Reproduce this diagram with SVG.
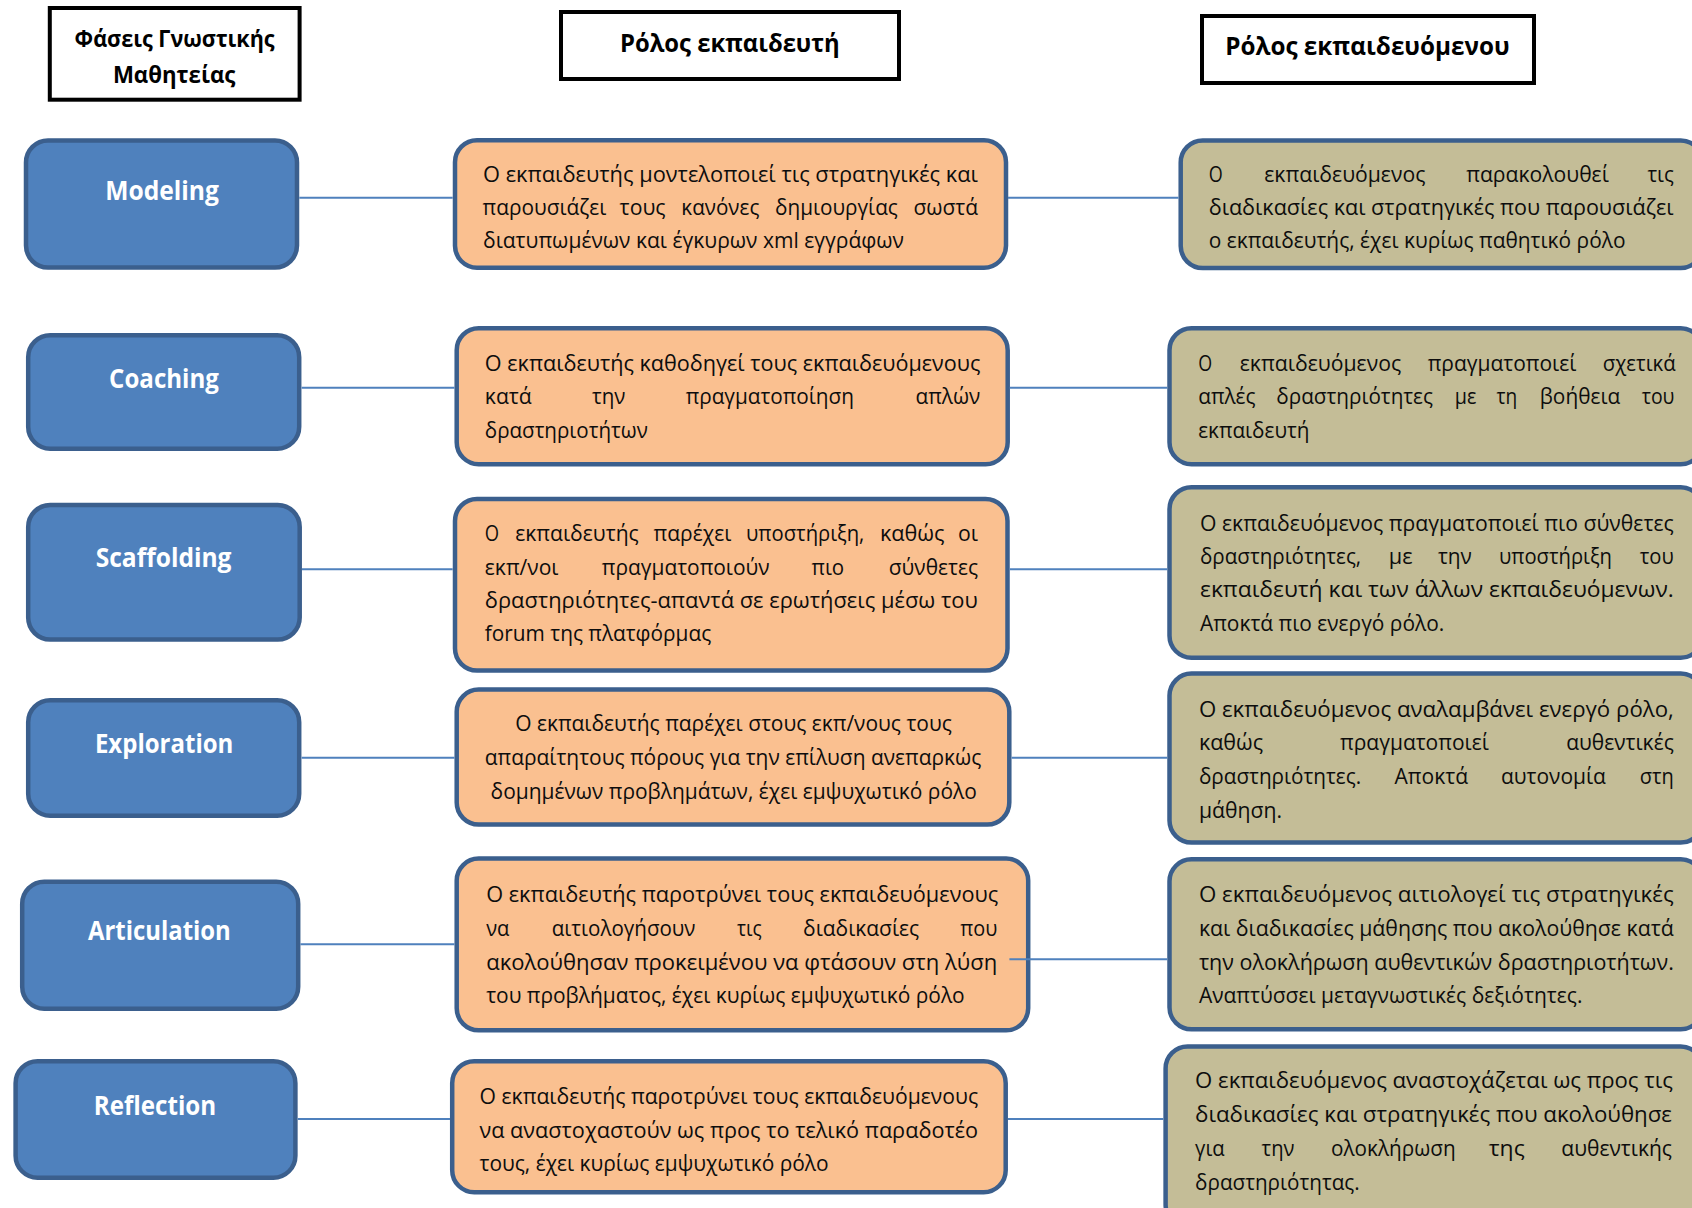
<svg xmlns="http://www.w3.org/2000/svg" width="1692" height="1208" viewBox="0 0 1692 1208">
<style>
.hdr{fill:#fff;stroke:#000;stroke-width:4}
.ht{font-family:"Open Sans","Noto Sans","DejaVu Sans",sans-serif;font-weight:700;fill:#000}
.ph{fill:#4f81bd;stroke:#3b5f8d;stroke-width:4.5}
.pt{font-family:"Open Sans","Noto Sans","DejaVu Sans",sans-serif;font-weight:700;font-size:27px;fill:#fff}
.tc{fill:#fac090;stroke:#3b5f8d;stroke-width:4.5}
.ln{fill:#c4bd97;stroke:#3b5f8d;stroke-width:4.5}
.t{font-family:"Open Sans","Noto Sans","DejaVu Sans",sans-serif;font-size:21px;fill:#0d0d0d}
.cn line{stroke:#4f81bd;stroke-width:2}
</style>
<rect width="1692" height="1208" fill="#fff"/>
<g id="hdr-phases">
<rect class="hdr" x="49.8" y="8" width="249.8" height="91.7"/>
<text class="ht" font-size="22.5" x="74.6" y="46.7" textLength="200" lengthAdjust="spacingAndGlyphs">Φάσεις Γνωστικής</text>
<text class="ht" font-size="22.5" x="112.9" y="82.7" textLength="122.5" lengthAdjust="spacingAndGlyphs">Μαθητείας</text>
</g>
<g id="hdr-teacher">
<rect class="hdr" x="561" y="12" width="338" height="67"/>
<text class="ht" font-size="25" x="620" y="51.7" textLength="219.7" lengthAdjust="spacingAndGlyphs">Ρόλος εκπαιδευτή</text>
</g>
<g id="hdr-learner">
<rect class="hdr" x="1202" y="16" width="332" height="67"/>
<text class="ht" font-size="25" x="1225.3" y="55" textLength="284.3" lengthAdjust="spacingAndGlyphs">Ρόλος εκπαιδευόμενου</text>
</g>

<g id="phase-modeling">
<rect class="ph" x="26" y="140.5" width="271" height="127" rx="22"/>
<text class="pt" x="105.2" y="199.5" textLength="113.7" lengthAdjust="spacingAndGlyphs">Modeling</text>
</g>
<g id="phase-coaching">
<rect class="ph" x="28.2" y="335.2" width="271" height="113.5" rx="22"/>
<text class="pt" x="109.1" y="387.5" textLength="109.8" lengthAdjust="spacingAndGlyphs">Coaching</text>
</g>
<g id="phase-scaffolding">
<rect class="ph" x="28.2" y="505" width="271.5" height="134.5" rx="22"/>
<text class="pt" x="95.7" y="567" textLength="135.8" lengthAdjust="spacingAndGlyphs">Scaffolding</text>
</g>
<g id="phase-exploration">
<rect class="ph" x="28.2" y="700.2" width="271" height="115.5" rx="22"/>
<text class="pt" x="94.9" y="753" textLength="138.5" lengthAdjust="spacingAndGlyphs">Exploration</text>
</g>
<g id="phase-articulation">
<rect class="ph" x="22.2" y="881.7" width="276" height="127" rx="22"/>
<text class="pt" x="88" y="940" textLength="142.8" lengthAdjust="spacingAndGlyphs">Articulation</text>
</g>
<g id="phase-reflection">
<rect class="ph" x="15.6" y="1061.2" width="279.8" height="116.5" rx="22"/>
<text class="pt" x="93.8" y="1115" textLength="122.4" lengthAdjust="spacingAndGlyphs">Reflection</text>
</g>

<g id="teacher-modeling">
<rect class="tc" x="455" y="140.2" width="551" height="127.5" rx="22"/>
<text class="t" x="483" y="181.7" textLength="495" lengthAdjust="spacingAndGlyphs">Ο εκπαιδευτής μοντελοποιεί τις στρατηγικές και</text>
<text class="t" x="482.6" y="215" textLength="123.7" lengthAdjust="spacingAndGlyphs">παρουσιάζει</text>
<text class="t" x="619.6" y="215" textLength="46" lengthAdjust="spacingAndGlyphs">τους</text>
<text class="t" x="681.3" y="215" textLength="78.1" lengthAdjust="spacingAndGlyphs">κανόνες</text>
<text class="t" x="775" y="215" textLength="122.8" lengthAdjust="spacingAndGlyphs">δημιουργίας</text>
<text class="t" x="913.4" y="215" textLength="64.6" lengthAdjust="spacingAndGlyphs">σωστά</text>
<text class="t" x="483" y="248.3" textLength="421" lengthAdjust="spacingAndGlyphs">διατυπωμένων και έγκυρων xml εγγράφων</text>
</g>
<g id="learner-modeling">
<rect class="ln" x="1180.7" y="140.5" width="522" height="127.5" rx="22"/>
<text class="t" x="1208.7" y="181.7" textLength="14" lengthAdjust="spacingAndGlyphs">Ο</text>
<text class="t" x="1264.2" y="181.7" textLength="161.2" lengthAdjust="spacingAndGlyphs">εκπαιδευόμενος</text>
<text class="t" x="1466.2" y="181.7" textLength="142.7" lengthAdjust="spacingAndGlyphs">παρακολουθεί</text>
<text class="t" x="1647.4" y="181.7" textLength="26.4" lengthAdjust="spacingAndGlyphs">τις</text>
<text class="t" x="1208.7" y="215" textLength="465" lengthAdjust="spacingAndGlyphs">διαδικασίες και στρατηγικές που παρουσιάζει</text>
<text class="t" x="1208.7" y="248.3" textLength="416.8" lengthAdjust="spacingAndGlyphs">ο εκπαιδευτής, έχει κυρίως παθητικό ρόλο</text>
</g>

<g id="teacher-coaching">
<rect class="tc" x="456.7" y="328.2" width="551" height="136" rx="22"/>
<text class="t" x="484.8" y="371" textLength="495.6" lengthAdjust="spacingAndGlyphs">Ο εκπαιδευτής καθοδηγεί τους εκπαιδευόμενους</text>
<text class="t" x="484.8" y="404.3" textLength="46.9" lengthAdjust="spacingAndGlyphs">κατά</text>
<text class="t" x="592" y="404.3" textLength="33.4" lengthAdjust="spacingAndGlyphs">την</text>
<text class="t" x="685.7" y="404.3" textLength="168.3" lengthAdjust="spacingAndGlyphs">πραγματοποίηση</text>
<text class="t" x="915.6" y="404.3" textLength="64.8" lengthAdjust="spacingAndGlyphs">απλών</text>
<text class="t" x="484.8" y="437.7" textLength="163" lengthAdjust="spacingAndGlyphs">δραστηριοτήτων</text>
</g>
<g id="learner-coaching">
<rect class="ln" x="1169.5" y="328.2" width="533.2" height="136" rx="22"/>
<text class="t" x="1198.2" y="371" textLength="13.9" lengthAdjust="spacingAndGlyphs">Ο</text>
<text class="t" x="1239.7" y="371" textLength="161.5" lengthAdjust="spacingAndGlyphs">εκπαιδευόμενος</text>
<text class="t" x="1427.7" y="371" textLength="148.7" lengthAdjust="spacingAndGlyphs">πραγματοποιεί</text>
<text class="t" x="1602.8" y="371" textLength="72.9" lengthAdjust="spacingAndGlyphs">σχετικά</text>
<text class="t" x="1198.2" y="404.3" textLength="57.3" lengthAdjust="spacingAndGlyphs">απλές</text>
<text class="t" x="1276.3" y="404.3" textLength="156.7" lengthAdjust="spacingAndGlyphs">δραστηριότητες</text>
<text class="t" x="1454.8" y="404.3" textLength="21.6" lengthAdjust="spacingAndGlyphs">με</text>
<text class="t" x="1496.4" y="404.3" textLength="20.7" lengthAdjust="spacingAndGlyphs">τη</text>
<text class="t" x="1539.8" y="404.3" textLength="80.4" lengthAdjust="spacingAndGlyphs">βοήθεια</text>
<text class="t" x="1641.7" y="404.3" textLength="32.8" lengthAdjust="spacingAndGlyphs">του</text>
<text class="t" x="1198.2" y="437.7" textLength="111.3" lengthAdjust="spacingAndGlyphs">εκπαιδευτή</text>
</g>

<g id="teacher-scaffolding">
<rect class="tc" x="455" y="499" width="552.5" height="171.5" rx="22"/>
<text class="t" x="484.8" y="541.3" textLength="14.3" lengthAdjust="spacingAndGlyphs">Ο</text>
<text class="t" x="515.2" y="541.3" textLength="123.6" lengthAdjust="spacingAndGlyphs">εκπαιδευτής</text>
<text class="t" x="653.6" y="541.3" textLength="77.7" lengthAdjust="spacingAndGlyphs">παρέχει</text>
<text class="t" x="746" y="541.3" textLength="118.3" lengthAdjust="spacingAndGlyphs">υποστήριξη,</text>
<text class="t" x="879.9" y="541.3" textLength="64.7" lengthAdjust="spacingAndGlyphs">καθώς</text>
<text class="t" x="958" y="541.3" textLength="20" lengthAdjust="spacingAndGlyphs">οι</text>
<text class="t" x="484.8" y="574.7" textLength="73.7" lengthAdjust="spacingAndGlyphs">εκπ/νοι</text>
<text class="t" x="601.8" y="574.7" textLength="167.8" lengthAdjust="spacingAndGlyphs">πραγματοποιούν</text>
<text class="t" x="811.6" y="574.7" textLength="32.6" lengthAdjust="spacingAndGlyphs">πιο</text>
<text class="t" x="888.8" y="574.7" textLength="89.2" lengthAdjust="spacingAndGlyphs">σύνθετες</text>
<text class="t" x="484.8" y="608" textLength="493" lengthAdjust="spacingAndGlyphs">δραστηριότητες-απαντά σε ερωτήσεις μέσω του</text>
<text class="t" x="484.8" y="641.3" textLength="226.4" lengthAdjust="spacingAndGlyphs">forum της πλατφόρμας</text>
</g>
<g id="learner-scaffolding">
<rect class="ln" x="1169.5" y="487.2" width="533.2" height="170.5" rx="22"/>
<text class="t" x="1200" y="530.7" textLength="473.8" lengthAdjust="spacingAndGlyphs">Ο εκπαιδευόμενος πραγματοποιεί πιο σύνθετες</text>
<text class="t" x="1200" y="564" textLength="161.2" lengthAdjust="spacingAndGlyphs">δραστηριότητες,</text>
<text class="t" x="1388.8" y="564" textLength="23.8" lengthAdjust="spacingAndGlyphs">με</text>
<text class="t" x="1437.9" y="564" textLength="33.9" lengthAdjust="spacingAndGlyphs">την</text>
<text class="t" x="1499" y="564" textLength="112.9" lengthAdjust="spacingAndGlyphs">υποστήριξη</text>
<text class="t" x="1639.8" y="564" textLength="34" lengthAdjust="spacingAndGlyphs">του</text>
<text class="t" x="1200" y="597.3" textLength="473.8" lengthAdjust="spacingAndGlyphs">εκπαιδευτή και των άλλων εκπαιδευόμενων.</text>
<text class="t" x="1200" y="630.7" textLength="244.3" lengthAdjust="spacingAndGlyphs">Αποκτά πιο ενεργό ρόλο.</text>
</g>

<g id="teacher-exploration">
<rect class="tc" x="456.7" y="689.6" width="552.6" height="135" rx="22"/>
<text class="t" x="515.2" y="731.1" textLength="436.6" lengthAdjust="spacingAndGlyphs">Ο εκπαιδευτής παρέχει στους εκπ/νους τους</text>
<text class="t" x="484.8" y="764.9" textLength="496.5" lengthAdjust="spacingAndGlyphs">απαραίτητους πόρους για την επίλυση ανεπαρκώς</text>
<text class="t" x="490.6" y="798.7" textLength="486.2" lengthAdjust="spacingAndGlyphs">δομημένων προβλημάτων, έχει εμψυχωτικό ρόλο</text>
</g>
<g id="learner-exploration">
<rect class="ln" x="1169.5" y="673.6" width="533.2" height="169" rx="22"/>
<text class="t" x="1198.9" y="716.5" textLength="474.9" lengthAdjust="spacingAndGlyphs">Ο εκπαιδευόμενος αναλαμβάνει ενεργό ρόλο,</text>
<text class="t" x="1198.9" y="750.3" textLength="64.2" lengthAdjust="spacingAndGlyphs">καθώς</text>
<text class="t" x="1340.1" y="750.3" textLength="148.7" lengthAdjust="spacingAndGlyphs">πραγματοποιεί</text>
<text class="t" x="1566.2" y="750.3" textLength="107.6" lengthAdjust="spacingAndGlyphs">αυθεντικές</text>
<text class="t" x="1198.9" y="784.1" textLength="162.3" lengthAdjust="spacingAndGlyphs">δραστηριότητες.</text>
<text class="t" x="1394.5" y="784.1" textLength="73.5" lengthAdjust="spacingAndGlyphs">Αποκτά</text>
<text class="t" x="1500.9" y="784.1" textLength="105" lengthAdjust="spacingAndGlyphs">αυτονομία</text>
<text class="t" x="1639.8" y="784.1" textLength="34" lengthAdjust="spacingAndGlyphs">στη</text>
<text class="t" x="1198.9" y="817.9" textLength="83.1" lengthAdjust="spacingAndGlyphs">μάθηση.</text>
</g>

<g id="teacher-articulation">
<rect class="tc" x="456.7" y="858.6" width="571.5" height="171.7" rx="22"/>
<text class="t" x="486.2" y="902" textLength="512" lengthAdjust="spacingAndGlyphs">Ο εκπαιδευτής παροτρύνει τους εκπαιδευόμενους</text>
<text class="t" x="486.2" y="935.8" textLength="23.2" lengthAdjust="spacingAndGlyphs">να</text>
<text class="t" x="551.8" y="935.8" textLength="143.7" lengthAdjust="spacingAndGlyphs">αιτιολογήσουν</text>
<text class="t" x="737" y="935.8" textLength="24.6" lengthAdjust="spacingAndGlyphs">τις</text>
<text class="t" x="803.1" y="935.8" textLength="116.1" lengthAdjust="spacingAndGlyphs">διαδικασίες</text>
<text class="t" x="960.3" y="935.8" textLength="37" lengthAdjust="spacingAndGlyphs">που</text>
<text class="t" x="486.2" y="969.6" textLength="511.1" lengthAdjust="spacingAndGlyphs">ακολούθησαν προκειμένου να φτάσουν στη λύση</text>
<text class="t" x="486.2" y="1003.4" textLength="478.5" lengthAdjust="spacingAndGlyphs">του προβλήματος, έχει κυρίως εμψυχωτικό ρόλο</text>
</g>
<g id="learner-articulation">
<rect class="ln" x="1169.5" y="859.3" width="533.2" height="170" rx="22"/>
<text class="t" x="1198.9" y="902" textLength="474.9" lengthAdjust="spacingAndGlyphs">Ο εκπαιδευόμενος αιτιολογεί τις στρατηγικές</text>
<text class="t" x="1198.9" y="935.8" textLength="474.9" lengthAdjust="spacingAndGlyphs">και διαδικασίες μάθησης που ακολούθησε κατά</text>
<text class="t" x="1198.9" y="969.6" textLength="474.9" lengthAdjust="spacingAndGlyphs">την ολοκλήρωση αυθεντικών δραστηριοτήτων.</text>
<text class="t" x="1198.9" y="1003.4" textLength="383.5" lengthAdjust="spacingAndGlyphs">Αναπτύσσει μεταγνωστικές δεξιότητες.</text>
</g>

<g id="teacher-reflection">
<rect class="tc" x="452.2" y="1061.2" width="553.5" height="131" rx="22"/>
<text class="t" x="479.5" y="1103.7" textLength="498.6" lengthAdjust="spacingAndGlyphs">Ο εκπαιδευτής παροτρύνει τους εκπαιδευόμενους</text>
<text class="t" x="479.5" y="1137.5" textLength="498.6" lengthAdjust="spacingAndGlyphs">να αναστοχαστούν ως προς το τελικό παραδοτέο</text>
<text class="t" x="479.5" y="1171.3" textLength="349.1" lengthAdjust="spacingAndGlyphs">τους, έχει κυρίως εμψυχωτικό ρόλο</text>
</g>
<g id="learner-reflection">
<rect class="ln" x="1165.6" y="1046.5" width="537" height="180" rx="22"/>
<text class="t" x="1195.1" y="1088.4" textLength="477.9" lengthAdjust="spacingAndGlyphs">Ο εκπαιδευόμενος αναστοχάζεται ως προς τις</text>
<text class="t" x="1195.1" y="1122.2" textLength="476.9" lengthAdjust="spacingAndGlyphs">διαδικασίες και στρατηγικές που ακολούθησε</text>
<text class="t" x="1195.1" y="1156" textLength="29.5" lengthAdjust="spacingAndGlyphs">για</text>
<text class="t" x="1261.6" y="1156" textLength="32.8" lengthAdjust="spacingAndGlyphs">την</text>
<text class="t" x="1331" y="1156" textLength="124.6" lengthAdjust="spacingAndGlyphs">ολοκλήρωση</text>
<text class="t" x="1488.8" y="1156" textLength="35.9" lengthAdjust="spacingAndGlyphs">της</text>
<text class="t" x="1561.3" y="1156" textLength="110.7" lengthAdjust="spacingAndGlyphs">αυθεντικής</text>
<text class="t" x="1195.1" y="1189.8" textLength="164.6" lengthAdjust="spacingAndGlyphs">δραστηριότητας.</text>
</g>

<g id="connectors" class="cn">
<line x1="299.3" y1="197.7" x2="452.7" y2="197.7"/>
<line x1="1008" y1="197.7" x2="1178.5" y2="197.7"/>
<line x1="301.6" y1="387.7" x2="454.5" y2="387.7"/>
<line x1="1009.8" y1="387.7" x2="1167.2" y2="387.7"/>
<line x1="302" y1="569.3" x2="452.7" y2="569.3"/>
<line x1="1009.8" y1="569.3" x2="1167.2" y2="569.3"/>
<line x1="301.6" y1="757.8" x2="454.5" y2="757.8"/>
<line x1="1011.6" y1="757.8" x2="1167.2" y2="757.8"/>
<line x1="300.4" y1="944.3" x2="454.5" y2="944.3"/>
<line x1="1009.4" y1="959.3" x2="1167.2" y2="959.3"/>
<line x1="297.7" y1="1119" x2="450" y2="1119"/>
<line x1="1008" y1="1119" x2="1163.4" y2="1119"/>
</g>
</svg>
